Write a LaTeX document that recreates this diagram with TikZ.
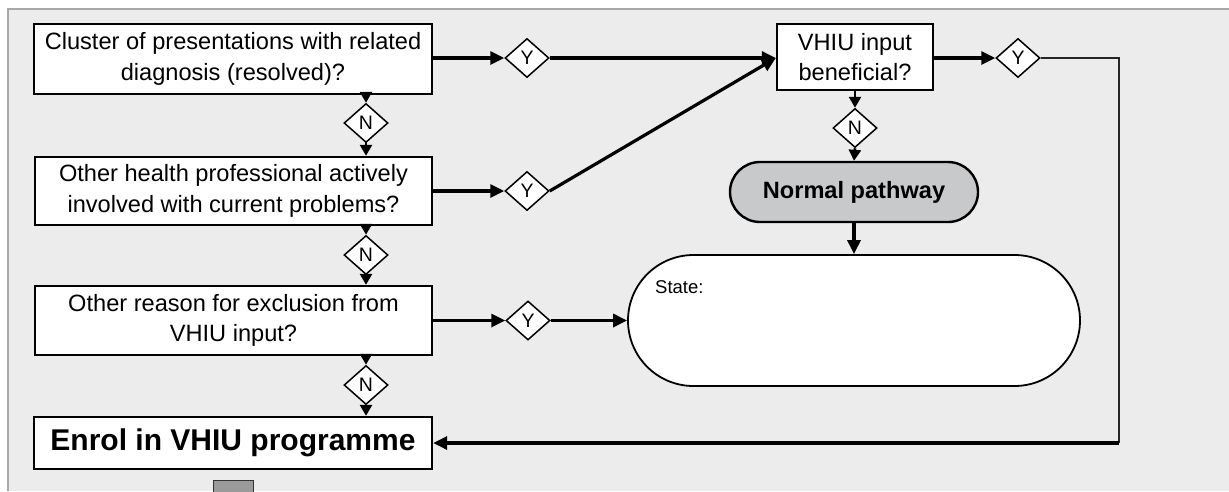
\documentclass[tikz,border=0pt]{standalone}
\usepackage{fontspec}
\setmainfont{Liberation Sans}
\usetikzlibrary{shapes.geometric,shapes.misc,arrows.meta}

\definecolor{panel}{HTML}{ECECEC}
\definecolor{panelrule}{HTML}{A8A8A8}
\definecolor{pathfill}{HTML}{C8C9CB}
\definecolor{tabfill}{HTML}{9A9A9A}

\begin{document}
\begin{tikzpicture}[x=1pt,y=-1pt,
  question/.style={draw=black, line width=2.4pt, fill=white, rectangle, inner sep=0pt,
    align=center, font=\fontsize{23.6}{30.5}\selectfont},
  decision/.style={draw=black, line width=1.5pt, fill=white, diamond,
    minimum width=44pt, minimum height=39pt, inner sep=0pt,
    font=\fontsize{19.5}{19.5}\selectfont},
  terminal/.style={draw=black, line width=2.4pt, rounded rectangle, inner sep=0pt},
  conn/.style={line width=3.2pt, -{Triangle[length=14pt,width=13pt]}},
  shortconn/.style={line width=2.6pt, -{Triangle[length=11pt,width=12pt]}},
  returnline/.style={line width=1.6pt, draw=black!85},
]
% page and grey panel
\clip (0,0) rectangle (1229,491);
\fill[white] (0,0) rectangle (1229,491);
\fill[panel] (8,9) rectangle (1229,491);
\draw[panelrule, line width=1.8pt] (8,491) -- (8,9) -- (1229,9);

% left column of questions
\node[question, minimum width=398pt, minimum height=70pt] (q1) at (233,59)
  {Cluster of presentations with related\\diagnosis (resolved)?};
\node[question, minimum width=397pt, minimum height=68pt] (q2) at (233.5,191)
  {Other health professional actively\\involved with current problems?};
\node[question, minimum width=397pt, minimum height=69pt] (q3) at (233.5,320.5)
  {Other reason for exclusion from\\VHIU input?};
\node[question, minimum width=398pt, minimum height=52pt,
      font=\fontsize{30}{30}\selectfont\bfseries] (enrol) at (233,443)
  {Enrol in VHIU programme};
\node[draw=black!80, fill=tabfill, line width=1.2pt, minimum width=40pt,
      minimum height=20pt, anchor=north west, inner sep=0pt] (tab) at (213,480) {};

% decisions
\node[decision] (n1) at (366,123) {N};
\node[decision] (n2) at (366,255) {N};
\node[decision] (n3) at (366,385) {N};
\node[decision] (y1) at (527,58) {Y};
\node[decision] (y2) at (527,191) {Y};
\node[decision] (y3) at (528,320.5) {Y};
\node[decision] (y4) at (1018,58) {Y};

% right column
\node[question, minimum width=156pt, minimum height=66pt] (vhiu) at (855,57)
  {VHIU input\\beneficial?};
\node[decision] (nv) at (855,128) {N};
\node[terminal, fill=pathfill, minimum width=248pt, minimum height=60pt,
      font=\fontsize{23.6}{23.6}\selectfont\bfseries] (normal) at (854,192)
  {Normal pathway};
\node[terminal, fill=white, line width=1.8pt, minimum width=452pt,
      minimum height=131pt] (state) at (854,320.5) {};
\node[anchor=base west, inner sep=0pt, font=\fontsize{18.5}{18.5}\selectfont]
  (statelabel) at (655,293) {State:};

% shared entry point on the left of the VHIU box, and the return corner
\coordinate (vin) at (vhiu.west |- y1.east);
\coordinate (corner) at (1119,443);

% connectors
\draw[shortconn] (q1.south -| n1) -- (n1.north);
\draw[shortconn] (n1.south) -- (q2.north -| n1);
\draw[shortconn] (q2.south -| n2) -- (n2.north);
\draw[shortconn] (n2.south) -- (q3.north -| n2);
\draw[shortconn] (q3.south -| n3) -- (n3.north);
\draw[shortconn] (n3.south) -- (enrol.north -| n3);

\draw[conn] (q1.east |- y1.west) -- (y1.west);
\draw[conn] (y1.east) -- (vin);
\draw[conn] (q2.east |- y2.west) -- (y2.west);
\draw[conn] (y2.east) -- (vin);
\draw[conn] (q3.east |- y3.west) -- (y3.west);
\draw[conn] (y3.east) -- (state.west);

\draw[conn] (vhiu.east |- y4.west) -- (y4.west);
\draw[returnline] (y4.east) -- (y4.east -| corner) -- (corner);
\draw[conn] (corner) -- (enrol.east);

\draw[shortconn] (vhiu.south -| nv) -- (nv.north);
\draw[shortconn] (nv.south) -- (normal.north);
\draw[conn] (normal.south) -- (state.north);
\end{tikzpicture}
\end{document}
